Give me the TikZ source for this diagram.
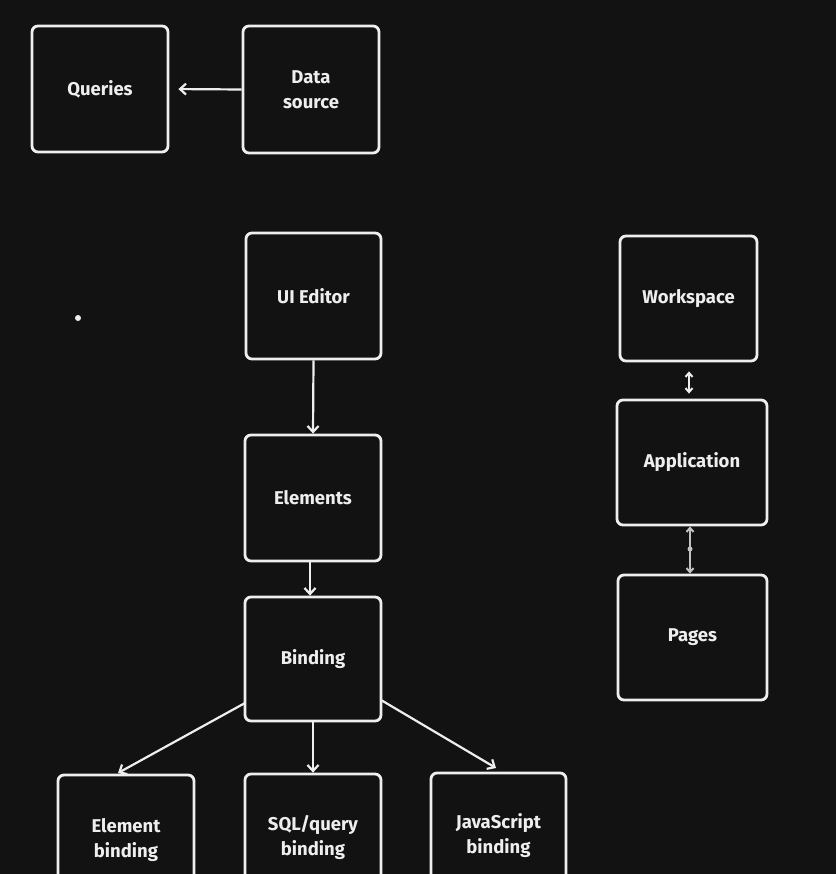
\documentclass[tikz,border=0pt]{standalone}
\usepackage{fontspec}
\setmainfont{Fira Sans}
\usetikzlibrary{arrows.meta}
\definecolor{bg}{HTML}{121212}
\definecolor{fg}{HTML}{EEEEEE}
\begin{document}
\begin{tikzpicture}[x=1pt,y=-1pt,
  box/.style={draw=fg,line width=2.8pt,rounded corners=6pt,fill=bg,text=fg,
    align=center,font=\fontsize{18.5}{25}\selectfont\bfseries,inner sep=0pt},
  conn/.style={draw=fg,line width=2.2pt,-{Straight Barb[length=6pt,width=11pt]}},
  dbl/.style={draw=fg,line width=2pt,{Straight Barb[length=4pt,width=7pt]}-{Straight Barb[length=4pt,width=7pt]}}]
\fill[bg] (0,0) rectangle (836,874);
\useasboundingbox (0,0) rectangle (836,874);
\begin{scope}
\clip (0,0) rectangle (836,874);
% top row
\node[box,minimum width=136pt,minimum height=126pt] (q) at (100,89) {Queries};
\node[box,minimum width=136pt,minimum height=127pt] (ds) at (311,89.5) {Data\\source};
% center column
\node[box,minimum width=135pt,minimum height=126pt] (ui) at (313.5,296) {UI Editor};
\node[box,minimum width=136pt,minimum height=126pt] (el) at (313,498) {Elements};
\node[box,minimum width=136pt,minimum height=124pt] (bi) at (313,659) {Binding};
% bottom row
\node[box,minimum width=136pt,minimum height=126pt,text depth=0pt] (eb) at (126,838) {Element\\binding};
\node[box,minimum width=136pt,minimum height=126pt] (sb) at (313,837) {SQL/query\\binding};
\node[box,minimum width=135pt,minimum height=126pt] (jb) at (498.5,836) {JavaScript\\binding};
% right column
\node[box,minimum width=137pt,minimum height=125pt] (ws) at (688.5,298.5) {Workspace};
\node[box,minimum width=150pt,minimum height=125pt] (ap) at (692,462.5) {Application};
\node[box,minimum width=149pt,minimum height=125pt] (pg) at (692.5,637.5) {Pages};
% connectors
\draw[conn,shorten >=9pt] (ds.west) -- (q.east);
\draw[conn] (ui.south) -- (el.north);
\draw[conn] (el.south -| 310,0) -- (bi.north -| 310,0);
\draw[conn] (bi.south) -- (sb.north);
\coordinate (bl) at (245,703);
\coordinate (br) at (381,700);
\coordinate (ebt) at (118,773);
\coordinate (jbt) at (496,768);
\draw[conn] (bl) -- (ebt);
\draw[conn] (br) -- (jbt);
\draw[dbl,shorten <=9pt,shorten >=5pt] (ws.south -| 689,0) -- (ap.north -| 689,0);
\draw[dbl,draw=fg!80!bg] (ap.south -| 690,0) -- (pg.north -| 690,0);
\fill[fg!80!bg] (690,549) circle (2.5pt);
\fill[fg] (78,318) circle (3pt);
\end{scope}
\end{tikzpicture}
\end{document}
